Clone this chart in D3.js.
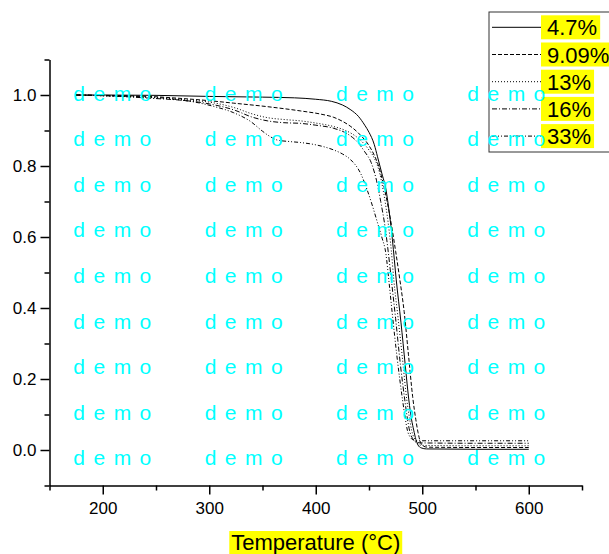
<!DOCTYPE html>
<html><head><meta charset="utf-8">
<script src="https://cdn.jsdelivr.net/npm/d3@7"></script>
<style>html,body{margin:0;padding:0;background:#fff;}svg{display:block;}</style>
</head><body>
<svg id="c" width="609" height="554"></svg>
<script>
// ---- data ----
const seriesNames = ["4.7%", "9.09%", "13%", "16%", "33%"];
const t47 = [175,200,250,300,350,380,400,415,425,433,440,446,450,455,458,462,466,469,472,475.6,480,484,487.4,490,492,494,496,499,504,550,600];
const v47 = [1.0,1.0,0.999,0.996,0.994,0.992,0.988,0.982,0.972,0.958,0.94,0.915,0.895,0.86,0.826,0.78,0.732,0.67,0.592,0.479,0.36,0.24,0.141,0.085,0.056,0.03,0.014,0.006,0.003,0.002,0.002];
const t909 = [175,200,250,275,300,323,355,386,405,417,425,433,441,449,455,459,463,467,471,475,479,483,487,491,494,496,498,501,505,550,600];
const v909 = [1.0,0.999,0.995,0.99,0.984,0.977,0.967,0.955,0.946,0.937,0.926,0.911,0.89,0.862,0.83,0.80,0.755,0.70,0.635,0.56,0.479,0.39,0.27,0.15,0.085,0.05,0.025,0.011,0.008,0.007,0.007];
const t13 = [175,200,250,275,300,325,339,355,370,386,400,417,428,436,443,450,455,460,464,468,471,473.3,477,481,485.5,488,490,493,496,500,550,600];
const v13 = [1.0,0.998,0.992,0.987,0.98,0.963,0.948,0.936,0.931,0.927,0.921,0.911,0.9,0.887,0.87,0.845,0.822,0.78,0.72,0.64,0.56,0.479,0.38,0.27,0.141,0.09,0.056,0.03,0.017,0.013,0.012,0.012];
const t16 = [175,200,250,275,300,325,339,355,370,386,400,417,430,439,446,452,457,461,465,468,471,475,479.5,483.6,486,488,491,494,498,550,600];
const v16 = [1.0,0.998,0.99,0.985,0.975,0.956,0.939,0.927,0.922,0.92,0.915,0.906,0.89,0.868,0.84,0.81,0.76,0.70,0.63,0.56,0.479,0.37,0.24,0.141,0.09,0.056,0.032,0.022,0.02,0.019,0.019];
const t33 = [175,200,250,273,290,304,323,339,350,355,364,375,386,401,417,425,433,442,448,453,458,462,466,468.6,472,476,481.5,484,486,489,492,496,550,600];
const v33 = [1.0,0.998,0.993,0.986,0.978,0.968,0.95,0.925,0.898,0.887,0.873,0.869,0.866,0.859,0.845,0.834,0.817,0.78,0.735,0.69,0.64,0.60,0.55,0.479,0.38,0.27,0.141,0.09,0.056,0.035,0.028,0.026,0.026,0.026];
const xTicks = [200,300,400,500,600];
const yTicks = [0.0,0.2,0.4,0.6,0.8,1.0];
const xLabel = "Temperature (°C)";
const watermark = "d e m o";

const temps = [t47, t909, t13, t16, t33];
const vals = [v47, v909, v13, v16, v33];
const dashes = [null, "4,2", "1,2", "5,2,1,2", "4,2,1,2,1,2"];

const svg = d3.select("#c");
const x = d3.scaleLinear().domain([150, 650]).range([49.5, 582]);
const y = d3.scaleLinear().domain([-0.1, 1.1]).range([485.5, 59.5]);
const FONT = "Liberation Sans, Arial, sans-serif";

// curves
const line = d3.line().x(d => x(d[0])).y(d => y(d[1])).curve(d3.curveMonotoneX);
seriesNames.forEach((n, i) => {
  const pts = temps[i].map((t, k) => [t, vals[i][k]]);
  svg.append("path").attr("d", line(pts)).attr("fill", "none")
    .attr("stroke", "#000").attr("stroke-width", 1)
    .attr("stroke-dasharray", dashes[i]);
});

// axes
const xMinor = d3.range(150, 651, 100);
const yMinor = d3.range(-0.1, 1.11, 0.2);
const gx = svg.append("g").attr("transform", `translate(0,${y(-0.1)})`);
gx.call(d3.axisBottom(x).tickValues(xTicks).tickSize(9).tickSizeOuter(0).tickFormat(d3.format("d")));
gx.append("g").call(d3.axisBottom(x).tickValues(xMinor).tickSize(5).tickFormat(""))
  .select(".domain").remove();
const gy = svg.append("g").attr("transform", `translate(${x(150)},0)`);
gy.call(d3.axisLeft(y).tickValues(yTicks).tickSize(9).tickSizeOuter(0).tickFormat(d3.format(".1f")));
gy.append("g").call(d3.axisLeft(y).tickValues(yMinor).tickSize(5).tickFormat(""))
  .select(".domain").remove();
svg.selectAll(".domain, .tick line").attr("stroke", "#000").attr("stroke-width", 1.5);
gx.selectAll(".tick text").attr("font-family", FONT).attr("font-size", 17).attr("fill", "#000").attr("dy", "0.95em").attr("y", 12);
gy.selectAll(".tick text").attr("font-family", FONT).attr("font-size", 17).attr("fill", "#000").attr("x", -13).attr("dy", "0.35em");

// x label with yellow background
const xl = svg.append("text").attr("x", (x(150) + x(650)) / 2).attr("y", 550)
  .attr("text-anchor", "middle").attr("font-family", FONT).attr("font-size", 22).text(xLabel);
const bb = xl.node().getBBox();
svg.insert("rect", () => xl.node()).attr("x", bb.x - 2).attr("y", bb.y + 1).attr("width", bb.width + 4).attr("height", bb.height).attr("fill", "#ffff00");

// legend
const lg = svg.append("g");
lg.append("rect").attr("x", 489).attr("y", 12).attr("width", 130).attr("height", 140)
  .attr("fill", "#fff").attr("stroke", "#333").attr("stroke-width", 1);
seriesNames.forEach((n, i) => {
  const cy = 27.3 + i * 27.2;
  lg.append("line").attr("x1", 492).attr("x2", 541).attr("y1", cy).attr("y2", cy)
    .attr("stroke", "#000").attr("stroke-width", 1).attr("stroke-dasharray", dashes[i]);
  const t = lg.append("text").attr("x", 547).attr("y", cy + 8).attr("font-family", FONT)
    .attr("font-size", 22).attr("fill", "#000").text(n);
  const w = t.node().getComputedTextLength();
  lg.insert("rect", () => t.node()).attr("x", 541).attr("y", cy - 12).attr("width", 547 + w + 3 - 541).attr("height", 24).attr("fill", "#ffff00");
});

// watermark
const wmCols = [73.3, 204.7, 336, 467.3];
const wmRows = d3.range(9);
wmRows.forEach(r => wmCols.forEach(cx => {
  svg.append("text").attr("x", cx).attr("y", 100.5 + r * 45.6).attr("font-family", FONT)
    .attr("font-size", 21).attr("fill", "#00ffff").attr("textLength", 78).attr("lengthAdjust", "spacing")
    .text(watermark);
}));
</script>
</body></html>
